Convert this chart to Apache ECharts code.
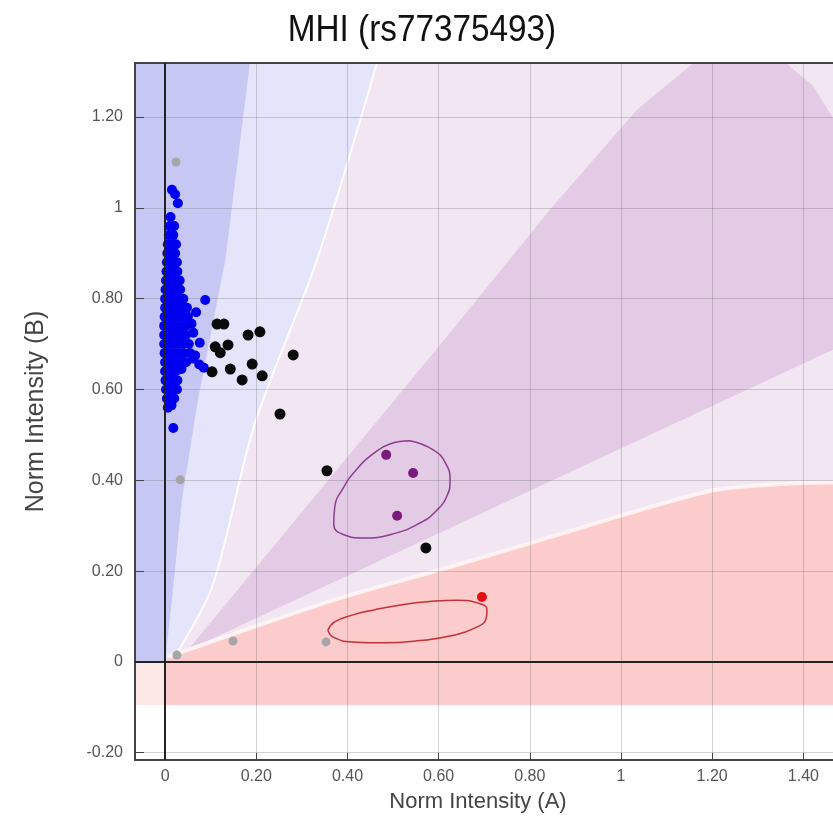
<!DOCTYPE html>
<html>
<head>
<meta charset="utf-8">
<title>MHI (rs77375493)</title>
<script src="https://cdn.jsdelivr.net/npm/echarts@6/dist/echarts.min.js"></script>
<style>
  html, body { margin: 0; padding: 0; background: #fff; }
  #chart { width: 833px; height: 821px; }
</style>
</head>
<body>
<div id="chart"></div>
<script>
// tick positions
const xTicks = [0, 0.2, 0.4, 0.6, 0.8, 1, 1.2, 1.4]
const yTicks = [-0.2, 0, 0.2, 0.4, 0.6, 0.8, 1, 1.2]

// genotype points [normA, normB]
const bluePoints = [
  [0.015, 1.04], [0.022, 1.03], [0.028, 1.01], [0.012, 0.98],
  [0.010, 0.96], [0.020, 0.96], [0.008, 0.94], [0.018, 0.94],
  [0.006, 0.92], [0.016, 0.92], [0.024, 0.92],
  [0.005, 0.90], [0.014, 0.90], [0.022, 0.90],
  [0.004, 0.88], [0.012, 0.88], [0.020, 0.88], [0.026, 0.88],
  [0.003, 0.86], [0.011, 0.86], [0.019, 0.86], [0.027, 0.86],
  [0.002, 0.84], [0.010, 0.84], [0.018, 0.84], [0.026, 0.84], [0.032, 0.84],
  [0.001, 0.82], [0.009, 0.82], [0.017, 0.82], [0.025, 0.82], [0.033, 0.82],
  [0.000, 0.80], [0.008, 0.80], [0.016, 0.80], [0.024, 0.80], [0.032, 0.80], [0.040, 0.80], [0.088, 0.797],
  [0.000, 0.78], [0.008, 0.78], [0.016, 0.78], [0.024, 0.78], [0.032, 0.78], [0.040, 0.78], [0.048, 0.78], [0.068, 0.77],
  [-0.001, 0.76], [0.007, 0.76], [0.015, 0.76], [0.023, 0.76], [0.031, 0.76], [0.039, 0.76], [0.050, 0.76],
  [-0.002, 0.74], [0.006, 0.74], [0.014, 0.74], [0.022, 0.74], [0.030, 0.74], [0.038, 0.74], [0.046, 0.74], [0.058, 0.745],
  [-0.002, 0.72], [0.006, 0.72], [0.014, 0.72], [0.022, 0.72], [0.030, 0.72], [0.038, 0.72], [0.046, 0.72], [0.062, 0.725],
  [-0.002, 0.70], [0.006, 0.70], [0.014, 0.70], [0.022, 0.70], [0.030, 0.70], [0.040, 0.70], [0.052, 0.70], [0.076, 0.703],
  [-0.001, 0.68], [0.007, 0.68], [0.015, 0.68], [0.023, 0.68], [0.031, 0.68], [0.041, 0.68], [0.055, 0.68], [0.066, 0.675],
  [0.000, 0.66], [0.008, 0.66], [0.016, 0.66], [0.024, 0.66], [0.034, 0.66], [0.046, 0.66], [0.062, 0.668], [0.075, 0.655],
  [0.000, 0.64], [0.008, 0.64], [0.016, 0.64], [0.024, 0.64], [0.036, 0.645], [0.085, 0.648],
  [0.001, 0.62], [0.009, 0.62], [0.017, 0.62], [0.027, 0.62],
  [0.002, 0.60], [0.010, 0.60], [0.018, 0.60], [0.026, 0.60],
  [0.004, 0.58], [0.012, 0.58], [0.020, 0.58],
  [0.006, 0.56], [0.014, 0.565], [0.018, 0.515]
]
const blackPoints = [
  [0.114, 0.744], [0.129, 0.744], [0.110, 0.694], [0.138, 0.698], [0.121, 0.681],
  [0.182, 0.720], [0.208, 0.727], [0.281, 0.676], [0.143, 0.645], [0.103, 0.639],
  [0.169, 0.621], [0.191, 0.656], [0.213, 0.630], [0.252, 0.546], [0.355, 0.421],
  [0.572, 0.251]
]
const purplePoints = [[0.485, 0.456], [0.544, 0.416], [0.509, 0.322]]
const redPoints = [[0.695, 0.143]]
const grayPoints = [[0.024, 1.101], [0.033, 0.401], [0.026, 0.015], [0.149, 0.046], [0.353, 0.044]]

// cluster ellipses (outline)
const purpleEllipse = [
  [0.537, 0.487], [0.588, 0.467], [0.615, 0.438], [0.625, 0.400], [0.618, 0.365],
  [0.595, 0.333], [0.559, 0.306], [0.500, 0.282], [0.434, 0.273], [0.392, 0.280],
  [0.370, 0.303], [0.372, 0.340], [0.392, 0.385], [0.420, 0.424], [0.456, 0.458],
  [0.493, 0.480], [0.537, 0.487]
]
const redEllipse = [
  [0.357, 0.070], [0.372, 0.088], [0.410, 0.103], [0.460, 0.115], [0.520, 0.126],
  [0.580, 0.133], [0.640, 0.136], [0.685, 0.130], [0.706, 0.115], [0.704, 0.095],
  [0.680, 0.075], [0.630, 0.058], [0.560, 0.047], [0.480, 0.042], [0.410, 0.044],
  [0.370, 0.054], [0.357, 0.070]
]

// shaded genotype zones
const abZone = [[0, 0], [1.47, 0], [1.47, 1.32], [0, 1.32]]
const aaEdgeZone = [[0, 0], [0, 1.32], [0.465, 1.32], [0.333, 0.885], [0.197, 0.526], [0.103, 0.165], [0.02, 0.01]]
const aaZone = [[-0.07, 0], [-0.07, 1.32], [0.186, 1.32], [0.132, 0.885], [0.072, 0.577], [0.037, 0.357], [0.015, 0.137], [0, 0]]
const abCone = [
  [0.05, 0.026], [0.625, 0.725], [0.844, 0.996], [1.035, 1.216], [1.16, 1.32],
  [1.36, 1.32], [1.42, 1.27], [1.47, 1.19], [1.47, 0.69], [0.572, 0.27]
]
const bbEdge = [
  [0.007, 0.011], [0.373, 0.137], [0.625, 0.209], [0.772, 0.253], [0.917, 0.297],
  [1.064, 0.341], [1.21, 0.379], [1.35, 0.392], [1.47, 0.395]
]
const bbZone = [[0, 0], ...bbEdge, [1.47, -0.095], [0, -0.095]]
const leftStrip = [[-0.07, -0.095], [0, -0.095], [0, 0], [-0.07, 0]]
const abBorder = [[0.02, 0.01], [0.103, 0.165], [0.197, 0.526], [0.333, 0.885], [0.465, 1.32]]

const fmt = (v) => {
  const r = Math.round(v * 100) / 100
  return Number.isInteger(r) ? String(r) : r.toFixed(2)
}

const zone = (pts, color) => ({
  type: 'custom',
  silent: true,
  clip: true,
  z: -1,
  data: [0],
  renderItem: (params, api) => ({
    type: 'polygon',
    shape: { points: pts.map((p) => api.coord(p)) },
    style: { fill: color },
  }),
})

const dots = (data, color, size) => ({
  type: 'scatter',
  data,
  symbolSize: size,
  itemStyle: { color, opacity: 1 },
  silent: true,
})

const outline = (data, color, width, z, smooth) => ({
  type: 'line',
  data,
  smooth,
  symbol: 'none',
  silent: true,
  z,
  lineStyle: { color, width },
})

const chart = echarts.init(document.getElementById('chart'))

chart.setOption({
  animation: false,
  textStyle: { fontFamily: 'Liberation Sans, Arial, sans-serif' },
  graphic: [
    {
      type: 'text',
      x: 422,
      y: 12,
      scaleX: 0.9,
      style: {
        text: 'MHI (rs77375493)',
        font: '37px "Liberation Sans", Arial, sans-serif',
        fill: '#111',
        textAlign: 'center',
        textVerticalAlign: 'top',
      },
    },
  ],
  grid: { left: 135, top: 63, right: 0, bottom: 61 },
  xAxis: [
    {
      type: 'value',
      min: -0.066,
      max: 1.465,
      name: 'Norm Intensity (A)',
      nameLocation: 'middle',
      nameGap: 31,
      nameTextStyle: { fontSize: 22, color: '#444', padding: [0, 12, 0, 0] },
      axisLine: { onZero: false, lineStyle: { color: '#444', width: 2 } },
      axisTick: { inside: true, length: 7, customValues: xTicks, lineStyle: { color: '#444' } },
      axisLabel: { customValues: xTicks, formatter: fmt, color: '#555', fontSize: 16, margin: 9 },
      splitLine: { show: true, lineStyle: { color: 'rgba(110,110,110,0.3)' } },
    },
    {
      type: 'value',
      position: 'top',
      min: -0.066,
      max: 1.465,
      axisLine: { show: true, onZero: false, lineStyle: { color: '#444', width: 2 } },
      axisTick: { show: false },
      axisLabel: { show: false },
      splitLine: { show: false },
    },
  ],
  yAxis: {
    type: 'value',
    min: -0.216,
    max: 1.319,
    name: 'Norm Intensity (B)',
    nameLocation: 'middle',
    nameGap: 86,
    nameTextStyle: { fontSize: 25, color: '#444' },
    axisLine: { show: true, onZero: false, lineStyle: { color: '#444', width: 2 } },
    axisTick: { inside: true, length: 9, customValues: yTicks, lineStyle: { color: '#444' } },
    axisLabel: { customValues: yTicks, formatter: fmt, color: '#555', fontSize: 16, margin: 12 },
    splitLine: { show: true, lineStyle: { color: 'rgba(110,110,110,0.3)' } },
  },
  series: [
    zone(abZone, '#f2e6f3'),
    zone(aaEdgeZone, '#e4e4fa'),
    zone(aaZone, '#c7c7f4'),
    zone(abCone, '#e3cbe5'),
    zone(bbZone, '#fccccc'),
    zone(leftStrip, '#fde8e8'),
    outline(abBorder, 'rgba(255,255,255,0.9)', 2, -1, 0.3),
    outline(bbEdge, 'rgba(255,246,246,0.85)', 4, -1, 0.3),
    {
      type: 'line',
      data: [],
      silent: true,
      z: 1,
      markLine: {
        silent: true,
        symbol: 'none',
        label: { show: false },
        lineStyle: { color: '#222', width: 2, type: 'solid' },
        data: [{ xAxis: 0 }, { yAxis: 0 }],
      },
    },
    outline(purpleEllipse, '#8e3c8e', 1.5, 3, 0.5),
    outline(redEllipse, '#c23038', 1.5, 3, 0.5),
    dots(grayPoints, '#a6a6a6', 9),
    dots(bluePoints, '#0000ee', 10),
    dots(blackPoints, '#0b0b0b', 11),
    dots(purplePoints, '#7a1a7a', 10),
    dots(redPoints, '#dd1111', 10),
  ],
})
</script>
</body>
</html>
